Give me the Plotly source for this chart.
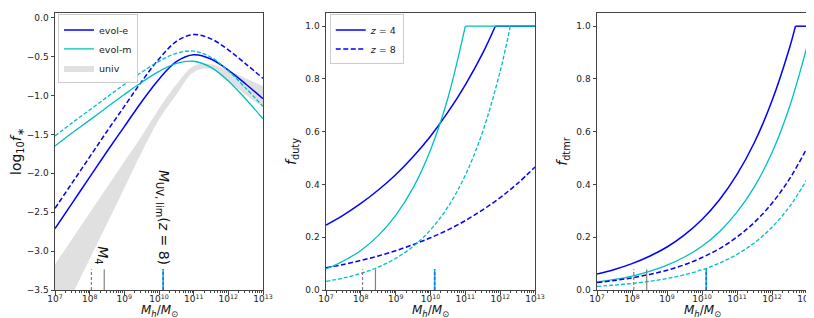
import plotly.graph_objects as go

# ---------------- data ----------------
logM = [7.0, 7.5, 8.0, 8.5, 9.0, 9.5, 10.0, 10.5, 11.0, 11.5, 12.0, 12.5, 13.0]

# left panel: log10 f_*
fstar_evol_e_z4 = [-2.71, -2.38, -2.05, -1.72, -1.40, -1.08, -0.79, -0.566, -0.477, -0.532, -0.674, -0.853, -1.042]
fstar_evol_e_z8 = [-2.45, -2.12, -1.79, -1.46, -1.14, -0.82, -0.53, -0.306, -0.217, -0.272, -0.414, -0.593, -0.78]
fstar_evol_m_z4 = [-1.649, -1.48, -1.317, -1.151, -0.988, -0.831, -0.691, -0.588, -0.560, -0.639, -0.813, -1.045, -1.30]
fstar_evol_m_z8 = [-1.52, -1.35, -1.187, -1.021, -0.858, -0.701, -0.561, -0.458, -0.430, -0.509, -0.683, -0.905, -1.14]
univ_upper = [-3.17, -2.84, -2.51, -2.18, -1.85, -1.52, -1.17, -0.86, -0.62, -0.60, -0.68, -0.78, -0.88]
univ_lower = [-4.02, -3.56, -3.10, -2.65, -2.19, -1.73, -1.31, -0.99, -0.70, -0.66, -0.82, -0.99, -1.15]

# middle panel: f_duty
duty_e_z4_logM = [7.0, 7.5, 8.0, 8.5, 9.0, 9.5, 10.0, 10.5, 11.0, 11.5, 11.86]
duty_e_z4 = [0.246, 0.284, 0.328, 0.379, 0.437, 0.505, 0.583, 0.674, 0.778, 0.898, 1.0]
duty_m_z4_logM = [7.0, 7.5, 8.0, 8.5, 9.0, 9.5, 10.0, 10.5, 11.0]
duty_m_z4 = [0.080, 0.110, 0.150, 0.206, 0.283, 0.387, 0.531, 0.728, 1.0]
duty_m_z8_logM = [7.0, 7.5, 8.0, 8.5, 9.0, 9.5, 10.0, 10.5, 11.0, 11.5, 12.0, 12.29]
duty_m_z8 = [0.033, 0.0455, 0.0629, 0.0868, 0.120, 0.165, 0.228, 0.315, 0.435, 0.601, 0.829, 1.0]
duty_e_z8 = [0.084, 0.097, 0.112, 0.129, 0.149, 0.172, 0.198, 0.228, 0.263, 0.304, 0.350, 0.404, 0.466]

# right panel: f_dtmr
dtmr_e_z4_logM = [7.0, 7.5, 8.0, 8.5, 9.0, 9.5, 10.0, 10.5, 11.0, 11.5, 12.0, 12.5, 12.67]
dtmr_e_z4 = [0.061, 0.078, 0.100, 0.128, 0.163, 0.209, 0.267, 0.342, 0.438, 0.560, 0.717, 0.917, 1.0]
dtmr_m_z4 = [0.030, 0.040, 0.053, 0.071, 0.094, 0.125, 0.166, 0.221, 0.295, 0.392, 0.521, 0.694, 0.923]
dtmr_e_z8 = [0.028, 0.036, 0.046, 0.059, 0.075, 0.096, 0.123, 0.157, 0.201, 0.257, 0.329, 0.421, 0.538]
dtmr_m_z8 = [0.014, 0.0186, 0.0247, 0.0327, 0.0435, 0.0577, 0.0766, 0.102, 0.135, 0.179, 0.238, 0.316, 0.419]

# characteristic masses (log10 Mh) marked at the bottom of each panel
logM_mark_dash = 8.05
logM_mark_solid = 8.42
logM_uvlim = 10.12
mark_frac = 0.075  # marker height, fraction of each panel's y range

x_range_log = [7, 13]
x_tick_exps = [7, 8, 9, 10, 11, 12, 13]
x_tick_labels = ["10<sup>%d</sup>" % e for e in x_tick_exps]
minor_mult = [2, 3, 4, 5, 6, 7, 8, 9]
y_ranges = [[-3.5, 0.06], [0.0, 1.05], [0.0, 1.05]]

BLUE = "#0000ff"
CYAN = "#00bfbf"
GRAY = "#808080"
FONT = "DejaVu Sans"


def X(lm):
    return [10 ** v for v in lm]


fig = go.Figure()

# ---------------- left panel ----------------
fig.add_trace(go.Scatter(x=X(logM), y=univ_lower, mode="lines", line=dict(width=0, shape="spline"),
                         showlegend=False, hoverinfo="skip", xaxis="x", yaxis="y"))
fig.add_trace(go.Scatter(x=X(logM), y=univ_upper, mode="lines", line=dict(width=0, shape="spline"),
                         fill="tonexty", fillcolor="#e0e0e0", name="univ", legendrank=3,
                         legend="legend", xaxis="x", yaxis="y"))
fig.add_trace(go.Scatter(x=X(logM), y=fstar_evol_e_z4, mode="lines", name="evol-e", legendrank=1,
                         line=dict(color=BLUE, width=1.5, shape="spline"), legend="legend", xaxis="x", yaxis="y"))
fig.add_trace(go.Scatter(x=X(logM), y=fstar_evol_e_z8, mode="lines", showlegend=False,
                         line=dict(color=BLUE, width=1.5, dash="5px,2.5px", shape="spline"), xaxis="x", yaxis="y"))
fig.add_trace(go.Scatter(x=X(logM), y=fstar_evol_m_z4, mode="lines", name="evol-m", legendrank=2,
                         line=dict(color=CYAN, width=1.3, shape="spline"), legend="legend", xaxis="x", yaxis="y"))
fig.add_trace(go.Scatter(x=X(logM), y=fstar_evol_m_z8, mode="lines", showlegend=False,
                         line=dict(color=CYAN, width=1.3, dash="4px,2px", shape="spline"), xaxis="x", yaxis="y"))

# ---------------- middle panel ----------------
fig.add_trace(go.Scatter(x=X(duty_e_z4_logM), y=duty_e_z4, mode="lines", name="<i>z</i> = 4", legendrank=1,
                         line=dict(color=BLUE, width=1.5, shape="spline"), legend="legend2", xaxis="x2", yaxis="y2"))
fig.add_trace(go.Scatter(x=X([duty_e_z4_logM[-1], x_range_log[1]]), y=[duty_e_z4[-1], duty_e_z4[-1]], mode="lines",
                         showlegend=False, line=dict(color=BLUE, width=1.5), xaxis="x2", yaxis="y2"))
fig.add_trace(go.Scatter(x=X(logM), y=duty_e_z8, mode="lines", name="<i>z</i> = 8", legendrank=2,
                         line=dict(color=BLUE, width=1.5, dash="5px,2.5px", shape="spline"), legend="legend2",
                         xaxis="x2", yaxis="y2"))
fig.add_trace(go.Scatter(x=X(duty_m_z4_logM), y=duty_m_z4, mode="lines", showlegend=False,
                         line=dict(color=CYAN, width=1.3, shape="spline"), xaxis="x2", yaxis="y2"))
fig.add_trace(go.Scatter(x=X([duty_m_z4_logM[-1], x_range_log[1]]), y=[duty_m_z4[-1], duty_m_z4[-1]], mode="lines",
                         showlegend=False, line=dict(color=CYAN, width=1.3), xaxis="x2", yaxis="y2"))
fig.add_trace(go.Scatter(x=X(duty_m_z8_logM), y=duty_m_z8, mode="lines", showlegend=False,
                         line=dict(color=CYAN, width=1.3, dash="4px,2px", shape="spline"), xaxis="x2", yaxis="y2"))

# ---------------- right panel ----------------
fig.add_trace(go.Scatter(x=X(dtmr_e_z4_logM), y=dtmr_e_z4, mode="lines", showlegend=False,
                         line=dict(color=BLUE, width=1.5, shape="spline"), xaxis="x3", yaxis="y3"))
fig.add_trace(go.Scatter(x=X([dtmr_e_z4_logM[-1], x_range_log[1]]), y=[dtmr_e_z4[-1], dtmr_e_z4[-1]], mode="lines",
                         showlegend=False, line=dict(color=BLUE, width=1.5), xaxis="x3", yaxis="y3"))
fig.add_trace(go.Scatter(x=X(logM), y=dtmr_m_z4, mode="lines", showlegend=False,
                         line=dict(color=CYAN, width=1.3, shape="spline"), xaxis="x3", yaxis="y3"))
fig.add_trace(go.Scatter(x=X(logM), y=dtmr_e_z8, mode="lines", showlegend=False,
                         line=dict(color=BLUE, width=1.5, dash="5px,2.5px", shape="spline"), xaxis="x3", yaxis="y3"))
fig.add_trace(go.Scatter(x=X(logM), y=dtmr_m_z8, mode="lines", showlegend=False,
                         line=dict(color=CYAN, width=1.3, dash="4px,2px", shape="spline"), xaxis="x3", yaxis="y3"))

# ---------------- characteristic-mass markers ----------------
for i, (xa, ya) in enumerate([("x", "y"), ("x2", "y2"), ("x3", "y3")]):
    y0, y1 = y_ranges[i]
    ytop = y0 + mark_frac * (y1 - y0)
    fig.add_trace(go.Scatter(x=X([logM_mark_dash] * 2), y=[y0, ytop], mode="lines", showlegend=False,
                             line=dict(color=GRAY, width=1.2, dash="3px,2px"), xaxis=xa, yaxis=ya))
    fig.add_trace(go.Scatter(x=X([logM_mark_solid] * 2), y=[y0, ytop], mode="lines", showlegend=False,
                             line=dict(color=GRAY, width=1.2), xaxis=xa, yaxis=ya))
    fig.add_trace(go.Scatter(x=X([logM_uvlim] * 2), y=[y0, ytop], mode="lines", showlegend=False,
                             line=dict(color=CYAN, width=1.6), xaxis=xa, yaxis=ya))
    fig.add_trace(go.Scatter(x=X([logM_uvlim] * 2), y=[y0, ytop], mode="lines", showlegend=False,
                             line=dict(color="#1f6fff", width=1.6, dash="3px,2px"), xaxis=xa, yaxis=ya))

# ---------------- layout ----------------
W, H = 814, 318
ml, mr, mt, mb = 47, 15, 5, 36
pw = W - ml - mr
domains = [[0.0, (255 - ml) / pw], [(318 - ml) / pw, (527 - ml) / pw], [(589 - ml) / pw, 1.0]]

major_vals = X(x_tick_exps)
minor_vals = [k * 10 ** d for d in range(x_range_log[0], x_range_log[1]) for k in minor_mult]

axis_common = dict(showline=True, mirror=True, linecolor="#444", linewidth=1, ticks="outside",
                   ticklen=3.5, tickcolor="#444", showgrid=False, zeroline=False, automargin=False,
                   tickfont=dict(size=9, color="#222", family=FONT))
xtitle = "<i>M<sub>h</sub></i>/<i>M</i><sub>⊙</sub>"
ytitles = ["log<sub>10</sub><i>f</i><sub>∗</sub>", "<i>f</i><sub>duty</sub>", "<i>f</i><sub>dtmr</sub>"]

layout = dict(width=W, height=H, margin=dict(l=ml, r=mr, t=mt, b=mb),
              plot_bgcolor="white", paper_bgcolor="white",
              font=dict(family=FONT, color="#111"))
for i in range(3):
    sx = "" if i == 0 else str(i + 1)
    layout["xaxis" + sx] = dict(axis_common, type="log", range=x_range_log,
                                tickmode="array", tickvals=major_vals, ticktext=x_tick_labels,
                                ticklabelstandoff=-3,
                                domain=domains[i], anchor="y" + sx,
                                minor=dict(ticks="outside", ticklen=2, tickcolor="#444", tickmode="array",
                                           tickvals=minor_vals, showgrid=False))
    yd = dict(axis_common, range=y_ranges[i], dtick=0.5 if i == 0 else 0.2, tickformat=".1f",
              domain=[0, 1], anchor="x" + sx,
              title=dict(text=ytitles[i], font=dict(size=14), standoff=5))
    if i == 0:
        yd["tick0"] = 0
    layout["yaxis" + sx] = yd

legend_common = dict(bgcolor="rgba(255,255,255,0.9)", bordercolor="#cccccc", borderwidth=1,
                     font=dict(size=9.5, family=FONT, color="#222"), xanchor="left", yanchor="top",
                     itemwidth=30, tracegroupgap=0, traceorder="normal")
layout["legend"] = dict(legend_common, x=domains[0][0] + 0.004, y=0.995)
layout["legend2"] = dict(legend_common, x=domains[1][0] + 0.005, y=0.995)

fig.update_layout(**layout)

# x-axis titles as annotations below each panel
for i in range(3):
    fig.add_annotation(x=(domains[i][0] + domains[i][1]) / 2, y=0, xref="paper", yref="paper",
                       text=xtitle, showarrow=False, xanchor="center", yanchor="middle", yshift=-21,
                       font=dict(size=12, family=FONT, color="#111"))

# rotated labels (annotation x on log axes is given in log10 units)
fig.add_annotation(x=logM_mark_solid - 0.05, y=-3.2, xref="x", yref="y", text="<i>M</i><sub>4</sub>",
                   textangle=90, showarrow=False, xanchor="center", yanchor="bottom",
                   font=dict(size=14, family=FONT, color="#111"))
fig.add_annotation(x=logM_uvlim, y=-3.2, xref="x", yref="y",
                   text="<i>M</i><sub>UV, lim</sub>(<i>z</i> = 8)",
                   textangle=90, showarrow=False, xanchor="center", yanchor="bottom",
                   font=dict(size=14, family=FONT, color="#111"))

fig.write_html("out.html")
